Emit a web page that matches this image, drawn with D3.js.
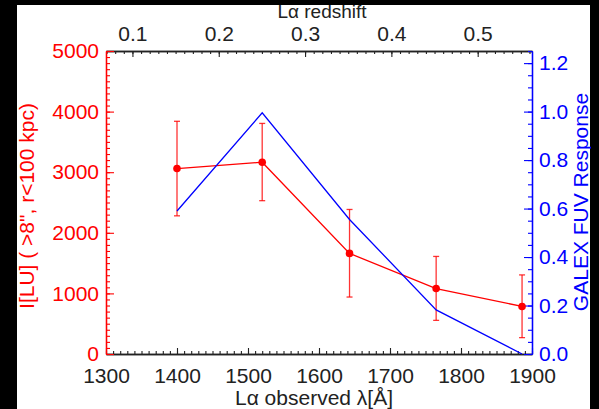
<!DOCTYPE html>
<html>
<head>
<meta charset="utf-8">
<script src="https://cdn.jsdelivr.net/npm/d3@7"></script>
<style>
  html, body { margin: 0; padding: 0; background: #000; }
  svg { display: block; }
  text { font-family: "Liberation Sans", Arial, Helvetica, sans-serif; }
</style>
</head>
<body>
<svg id="chart" width="599" height="409"></svg>
<script>
// Lα observed wavelength of each bin (Å)
const wavelength = [1400, 1520, 1643, 1765, 1886];
// I[LU] for r<100 kpc, with error bar ends
const intensity = [3060, 3165, 1660, 1080, 785];
const errLow    = [2280, 2530, 940, 555, 270];
const errHigh   = [3840, 3805, 2385, 1610, 1305];
// GALEX FUV response at the same wavelengths
const response  = [0.59, 0.995, 0.555, 0.182, 0.0];

const xTicks      = [1300, 1400, 1500, 1600, 1700, 1800, 1900];
const leftTicks   = [0, 1000, 2000, 3000, 4000, 5000];
const rightTicks  = [0, 0.2, 0.4, 0.6, 0.8, 1.0, 1.2];
const zTicks      = [0.1, 0.2, 0.3, 0.4, 0.5];
const LYA = 1215.67;

const RED = '#ff0000', BLUE = '#0000ff', INK = '#222';
const FS = 21;

const svg = d3.select('#chart');
svg.append('rect').attr('x', 17).attr('y', 5).attr('width', 573).attr('height', 404).attr('fill', '#fff');

const L = 106, R = 532, T = 51, B = 354;
const x = d3.scaleLinear().domain([1300, 1900]).range([L, R]);
const yL = d3.scaleLinear().domain([0, 5000]).range([B, T]);
const yR = d3.scaleLinear().domain([0, 1.25]).range([B, T]);

const range = (a, b, s) => d3.range(Math.round((b - a) / s) + 1).map((i) => +(a + i * s).toFixed(4));

function style(g, color) {
  g.selectAll('path.domain').attr('stroke', color).attr('stroke-width', 1.3);
  g.selectAll('line').attr('stroke', color).attr('stroke-width', 1.1);
  g.selectAll('text').attr('fill', color).attr('font-size', FS).attr('font-family', null);
}

// bottom axis (ticks point inward)
const gB = svg.append('g').attr('transform', `translate(0,${B})`);
gB.append('g').call(d3.axisBottom(x).tickValues(range(1300, 1900, 10)).tickFormat('').tickSizeInner(-3).tickSizeOuter(0)).call(style, INK);
gB.append('g').call(d3.axisBottom(x).tickValues(xTicks).tickFormat(d3.format('d')).tickSizeInner(-6).tickSizeOuter(0).tickPadding(14)).call(style, INK);

// top axis: Lα redshift
const zMinor = range(0.07, 0.56, 0.01);
const gT = svg.append('g').attr('transform', `translate(0,${T})`);
gT.append('g').call(d3.axisTop(x).tickValues(zMinor.map((z) => LYA * (1 + z))).tickFormat('').tickSizeInner(-3).tickSizeOuter(0)).call(style, INK);
gT.append('g').call(d3.axisTop(x).tickValues(zTicks.map((z) => LYA * (1 + z))).tickFormat((d, i) => zTicks[i].toFixed(1)).tickSizeInner(-6).tickSizeOuter(0).tickPadding(10)).call(style, INK);

// left axis (red)
const gLft = svg.append('g').attr('transform', `translate(${L},0)`);
gLft.append('g').call(d3.axisLeft(yL).tickValues(range(0, 5000, 100)).tickFormat('').tickSizeInner(-4).tickSizeOuter(0)).call(style, RED);
gLft.append('g').call(d3.axisLeft(yL).tickValues(leftTicks).tickFormat(d3.format('d')).tickSizeInner(-8).tickSizeOuter(0).tickPadding(7)).call(style, RED);

// right axis (blue)
const gRt = svg.append('g').attr('transform', `translate(${R},0)`);
gRt.append('g').call(d3.axisRight(yR).tickValues(range(0, 1.25, 0.05)).tickFormat('').tickSizeInner(-4).tickSizeOuter(0)).call(style, BLUE);
gRt.append('g').call(d3.axisRight(yR).tickValues(rightTicks).tickFormat(d3.format('.1f')).tickSizeInner(-8).tickSizeOuter(0).tickPadding(7)).call(style, BLUE);

// red data: line, error bars, points
const pts = wavelength.map((w, i) => ({ w, v: intensity[i], lo: errLow[i], hi: errHigh[i], r: response[i] }));
const plot = svg.append('g');
plot.append('path').datum(pts)
  .attr('fill', 'none').attr('stroke', RED).attr('stroke-width', 1.3)
  .attr('d', d3.line().x((d) => x(d.w)).y((d) => yL(d.v)));
const eb = plot.append('g').attr('stroke', RED).attr('stroke-width', 1.3).attr('stroke-opacity', 0.8);
eb.selectAll('line.v').data(pts).join('line').attr('class', 'v')
  .attr('x1', (d) => x(d.w)).attr('x2', (d) => x(d.w)).attr('y1', (d) => yL(d.lo)).attr('y2', (d) => yL(d.hi));
eb.selectAll('line.c1').data(pts).join('line').attr('class', 'c1')
  .attr('x1', (d) => x(d.w) - 3).attr('x2', (d) => x(d.w) + 3).attr('y1', (d) => yL(d.lo)).attr('y2', (d) => yL(d.lo));
eb.selectAll('line.c2').data(pts).join('line').attr('class', 'c2')
  .attr('x1', (d) => x(d.w) - 3).attr('x2', (d) => x(d.w) + 3).attr('y1', (d) => yL(d.hi)).attr('y2', (d) => yL(d.hi));
plot.append('g').selectAll('circle').data(pts).join('circle')
  .attr('cx', (d) => x(d.w)).attr('cy', (d) => yL(d.v)).attr('r', 3.8).attr('fill', RED);

// blue response curve
plot.append('path').datum(pts)
  .attr('fill', 'none').attr('stroke', BLUE).attr('stroke-width', 1.3)
  .attr('d', d3.line().x((d) => x(d.w)).y((d) => yR(d.r)));

// axis titles
svg.append('text').attr('x', 322).attr('y', 18).attr('text-anchor', 'middle')
  .attr('font-size', 19).attr('fill', INK).text('Lα redshift');
svg.append('text').attr('x', 314).attr('y', 405).attr('text-anchor', 'middle')
  .attr('font-size', FS).attr('fill', INK).text('Lα observed λ[Å]');
svg.append('text').attr('transform', 'translate(34,206) rotate(-90)').attr('text-anchor', 'middle')
  .attr('font-size', FS).attr('fill', RED).text('I[LU] ( >8", r<100 kpc)');
svg.append('text').attr('transform', 'translate(588,202) rotate(-90)').attr('text-anchor', 'middle')
  .attr('font-size', FS).attr('fill', BLUE).text('GALEX FUV Response');

// black frame on the right edge (image border)
svg.append('rect').attr('x', 591).attr('y', 0).attr('width', 8).attr('height', 409).attr('fill', '#000');
</script>
</body>
</html>
